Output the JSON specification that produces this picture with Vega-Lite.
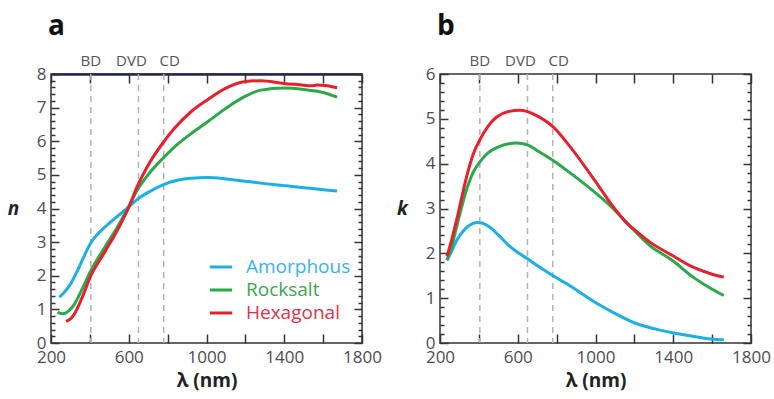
{
  "$schema": "https://vega.github.io/schema/vega-lite/v6.json",
  "padding": {"left": 6, "top": 12, "right": 0, "bottom": 0},
  "config": {
    "font": "Open Sans",
    "view": {"stroke": "#333", "strokeWidth": 1.5},
    "axis": {"domainColor": "#333", "domainWidth": 1.5, "ticks": true, "tickColor": "#333", "tickWidth": 1.5, "labelFont": "Open Sans", "labelFontSize": 17, "labelColor": "#4d4d4d", "grid": false, "titleFont": "Open Sans", "titleFontSize": 19, "titleFontWeight": "bold", "titleColor": "#222"}
  },
  "datasets": {
    "discA": [{"disc": "BD", "lam": 405, "top": 8}, {"disc": "DVD", "lam": 650, "top": 8}, {"disc": "CD", "lam": 780, "top": 8}],
    "discB": [{"disc": "BD", "lam": 405, "top": 6}, {"disc": "DVD", "lam": 650, "top": 6}, {"disc": "CD", "lam": 780, "top": 6}],
    "nData": [
      {"phase": "Amorphous", "lam": 243, "v": 1.36}, {"phase": "Amorphous", "lam": 270, "v": 1.52}, {"phase": "Amorphous", "lam": 300, "v": 1.75}, {"phase": "Amorphous", "lam": 330, "v": 2.08}, {"phase": "Amorphous", "lam": 360, "v": 2.45}, {"phase": "Amorphous", "lam": 385, "v": 2.76}, {"phase": "Amorphous", "lam": 405, "v": 2.98}, {"phase": "Amorphous", "lam": 440, "v": 3.24}, {"phase": "Amorphous", "lam": 474, "v": 3.43}, {"phase": "Amorphous", "lam": 540, "v": 3.76}, {"phase": "Amorphous", "lam": 600, "v": 4.05}, {"phase": "Amorphous", "lam": 650, "v": 4.3}, {"phase": "Amorphous", "lam": 700, "v": 4.48}, {"phase": "Amorphous", "lam": 782, "v": 4.72}, {"phase": "Amorphous", "lam": 850, "v": 4.84}, {"phase": "Amorphous", "lam": 920, "v": 4.9}, {"phase": "Amorphous", "lam": 1004, "v": 4.92}, {"phase": "Amorphous", "lam": 1100, "v": 4.88}, {"phase": "Amorphous", "lam": 1200, "v": 4.81}, {"phase": "Amorphous", "lam": 1300, "v": 4.74}, {"phase": "Amorphous", "lam": 1400, "v": 4.68}, {"phase": "Amorphous", "lam": 1500, "v": 4.62}, {"phase": "Amorphous", "lam": 1600, "v": 4.56}, {"phase": "Amorphous", "lam": 1672, "v": 4.52},
      {"phase": "Rocksalt", "lam": 234, "v": 0.92}, {"phase": "Rocksalt", "lam": 260, "v": 0.87}, {"phase": "Rocksalt", "lam": 290, "v": 0.95}, {"phase": "Rocksalt", "lam": 320, "v": 1.15}, {"phase": "Rocksalt", "lam": 360, "v": 1.6}, {"phase": "Rocksalt", "lam": 405, "v": 2.15}, {"phase": "Rocksalt", "lam": 474, "v": 2.82}, {"phase": "Rocksalt", "lam": 542, "v": 3.45}, {"phase": "Rocksalt", "lam": 602, "v": 4.08}, {"phase": "Rocksalt", "lam": 641, "v": 4.52}, {"phase": "Rocksalt", "lam": 696, "v": 4.98}, {"phase": "Rocksalt", "lam": 782, "v": 5.53}, {"phase": "Rocksalt", "lam": 833, "v": 5.82}, {"phase": "Rocksalt", "lam": 919, "v": 6.22}, {"phase": "Rocksalt", "lam": 1004, "v": 6.57}, {"phase": "Rocksalt", "lam": 1090, "v": 6.94}, {"phase": "Rocksalt", "lam": 1193, "v": 7.32}, {"phase": "Rocksalt", "lam": 1280, "v": 7.52}, {"phase": "Rocksalt", "lam": 1398, "v": 7.58}, {"phase": "Rocksalt", "lam": 1500, "v": 7.54}, {"phase": "Rocksalt", "lam": 1600, "v": 7.45}, {"phase": "Rocksalt", "lam": 1672, "v": 7.31},
      {"phase": "Hexagonal", "lam": 277, "v": 0.64}, {"phase": "Hexagonal", "lam": 300, "v": 0.72}, {"phase": "Hexagonal", "lam": 320, "v": 0.86}, {"phase": "Hexagonal", "lam": 360, "v": 1.35}, {"phase": "Hexagonal", "lam": 405, "v": 2.0}, {"phase": "Hexagonal", "lam": 474, "v": 2.68}, {"phase": "Hexagonal", "lam": 542, "v": 3.36}, {"phase": "Hexagonal", "lam": 602, "v": 4.06}, {"phase": "Hexagonal", "lam": 641, "v": 4.62}, {"phase": "Hexagonal", "lam": 696, "v": 5.25}, {"phase": "Hexagonal", "lam": 782, "v": 6.0}, {"phase": "Hexagonal", "lam": 833, "v": 6.37}, {"phase": "Hexagonal", "lam": 919, "v": 6.87}, {"phase": "Hexagonal", "lam": 1004, "v": 7.23}, {"phase": "Hexagonal", "lam": 1100, "v": 7.58}, {"phase": "Hexagonal", "lam": 1193, "v": 7.77}, {"phase": "Hexagonal", "lam": 1280, "v": 7.8}, {"phase": "Hexagonal", "lam": 1398, "v": 7.72}, {"phase": "Hexagonal", "lam": 1480, "v": 7.68}, {"phase": "Hexagonal", "lam": 1540, "v": 7.65}, {"phase": "Hexagonal", "lam": 1570, "v": 7.67}, {"phase": "Hexagonal", "lam": 1610, "v": 7.66}, {"phase": "Hexagonal", "lam": 1672, "v": 7.59}
    ],
    "kData": [
      {"phase": "Amorphous", "lam": 236, "v": 1.84}, {"phase": "Amorphous", "lam": 260, "v": 2.05}, {"phase": "Amorphous", "lam": 290, "v": 2.32}, {"phase": "Amorphous", "lam": 320, "v": 2.5}, {"phase": "Amorphous", "lam": 350, "v": 2.62}, {"phase": "Amorphous", "lam": 390, "v": 2.69}, {"phase": "Amorphous", "lam": 420, "v": 2.67}, {"phase": "Amorphous", "lam": 460, "v": 2.57}, {"phase": "Amorphous", "lam": 500, "v": 2.41}, {"phase": "Amorphous", "lam": 550, "v": 2.19}, {"phase": "Amorphous", "lam": 600, "v": 2.02}, {"phase": "Amorphous", "lam": 650, "v": 1.88}, {"phase": "Amorphous", "lam": 700, "v": 1.73}, {"phase": "Amorphous", "lam": 782, "v": 1.5}, {"phase": "Amorphous", "lam": 852, "v": 1.32}, {"phase": "Amorphous", "lam": 997, "v": 0.91}, {"phase": "Amorphous", "lam": 1100, "v": 0.66}, {"phase": "Amorphous", "lam": 1194, "v": 0.46}, {"phase": "Amorphous", "lam": 1300, "v": 0.32}, {"phase": "Amorphous", "lam": 1396, "v": 0.23}, {"phase": "Amorphous", "lam": 1500, "v": 0.15}, {"phase": "Amorphous", "lam": 1596, "v": 0.09}, {"phase": "Amorphous", "lam": 1660, "v": 0.07},
      {"phase": "Rocksalt", "lam": 236, "v": 1.85}, {"phase": "Rocksalt", "lam": 260, "v": 2.15}, {"phase": "Rocksalt", "lam": 287, "v": 2.62}, {"phase": "Rocksalt", "lam": 338, "v": 3.44}, {"phase": "Rocksalt", "lam": 370, "v": 3.8}, {"phase": "Rocksalt", "lam": 407, "v": 4.05}, {"phase": "Rocksalt", "lam": 450, "v": 4.25}, {"phase": "Rocksalt", "lam": 492, "v": 4.36}, {"phase": "Rocksalt", "lam": 595, "v": 4.46}, {"phase": "Rocksalt", "lam": 650, "v": 4.42}, {"phase": "Rocksalt", "lam": 697, "v": 4.3}, {"phase": "Rocksalt", "lam": 782, "v": 4.07}, {"phase": "Rocksalt", "lam": 852, "v": 3.85}, {"phase": "Rocksalt", "lam": 997, "v": 3.36}, {"phase": "Rocksalt", "lam": 1074, "v": 3.07}, {"phase": "Rocksalt", "lam": 1151, "v": 2.73}, {"phase": "Rocksalt", "lam": 1194, "v": 2.53}, {"phase": "Rocksalt", "lam": 1280, "v": 2.17}, {"phase": "Rocksalt", "lam": 1396, "v": 1.84}, {"phase": "Rocksalt", "lam": 1502, "v": 1.47}, {"phase": "Rocksalt", "lam": 1596, "v": 1.21}, {"phase": "Rocksalt", "lam": 1660, "v": 1.06},
      {"phase": "Hexagonal", "lam": 236, "v": 1.93}, {"phase": "Hexagonal", "lam": 260, "v": 2.3}, {"phase": "Hexagonal", "lam": 287, "v": 2.77}, {"phase": "Hexagonal", "lam": 338, "v": 3.73}, {"phase": "Hexagonal", "lam": 370, "v": 4.2}, {"phase": "Hexagonal", "lam": 407, "v": 4.55}, {"phase": "Hexagonal", "lam": 450, "v": 4.85}, {"phase": "Hexagonal", "lam": 492, "v": 5.04}, {"phase": "Hexagonal", "lam": 550, "v": 5.16}, {"phase": "Hexagonal", "lam": 612, "v": 5.19}, {"phase": "Hexagonal", "lam": 650, "v": 5.16}, {"phase": "Hexagonal", "lam": 697, "v": 5.07}, {"phase": "Hexagonal", "lam": 782, "v": 4.82}, {"phase": "Hexagonal", "lam": 869, "v": 4.38}, {"phase": "Hexagonal", "lam": 997, "v": 3.62}, {"phase": "Hexagonal", "lam": 1074, "v": 3.14}, {"phase": "Hexagonal", "lam": 1160, "v": 2.68}, {"phase": "Hexagonal", "lam": 1194, "v": 2.55}, {"phase": "Hexagonal", "lam": 1280, "v": 2.25}, {"phase": "Hexagonal", "lam": 1396, "v": 1.95}, {"phase": "Hexagonal", "lam": 1502, "v": 1.69}, {"phase": "Hexagonal", "lam": 1596, "v": 1.54}, {"phase": "Hexagonal", "lam": 1660, "v": 1.47}
    ]
  },
  "spacing": 78,
  "bounds": "flush",
  "resolve": {"scale": {"color": "independent"}, "legend": {"color": "independent"}},
  "hconcat": [
    {
      "width": 311,
      "height": 269,
      "title": {"text": "a", "anchor": "start", "frame": "group", "fontSize": 28, "fontWeight": "bold", "font": "Open Sans", "color": "#111", "offset": 13, "dx": -3},
      "resolve": {"axis": {"x": "independent", "y": "independent"}},
      "layer": [
        {
          "data": {"name": "discA"},
          "mark": {"type": "rule", "color": "#b3b3b3", "strokeWidth": 1.5, "strokeDash": [6, 5]},
          "encoding": {
            "x": {"field": "lam", "type": "quantitative", "scale": {"domain": [200, 1800], "nice": false, "zero": false},
              "axis": {"orient": "top", "values": [200, 400, 600, 800, 1000, 1200, 1400, 1600, 1800], "labels": false, "ticks": true, "tickSize": 9, "offset": -9, "domain": false, "title": null}}
          }
        },
        {
          "data": {"name": "discA"},
          "transform": [{"filter": "datum.disc == 'BD'"}],
          "mark": {"type": "text", "fontSize": 15, "color": "#555", "baseline": "middle", "dy": -13, "font": "Open Sans"},
          "encoding": {
            "x": {"field": "lam", "type": "quantitative", "axis": {"orient": "top", "ticks": false, "labels": false, "title": null, "domainColor": "#262a48", "domainWidth": 2.5}},
            "y": {"field": "top", "type": "quantitative", "scale": {"domain": [0, 8], "nice": false},
              "axis": {"orient": "right", "values": [0, 1, 2, 3, 4, 5, 6, 7, 8], "labels": false, "title": null, "domain": false, "ticks": true, "tickSize": 8, "offset": -8}},
            "text": {"field": "disc"}
          }
        },
        {
          "data": {"name": "discA"},
          "transform": [{"filter": "datum.disc == 'DVD'"}],
          "mark": {"type": "text", "fontSize": 15, "color": "#555", "baseline": "middle", "dy": -13, "dx": -7, "font": "Open Sans"},
          "encoding": {
            "x": {"field": "lam", "type": "quantitative", "axis": null},
            "y": {"field": "top", "type": "quantitative",
              "axis": {"orient": "left", "values": [0.2,0.4,0.6,0.8,1.2,1.4,1.6,1.8,2.2,2.4,2.6,2.8,3.2,3.4,3.6,3.8,4.2,4.4,4.6,4.8,5.2,5.4,5.6,5.8,6.2,6.4,6.6,6.8,7.2,7.4,7.6,7.8], "labels": false, "title": null, "domain": false, "ticks": true, "tickSize": 4, "offset": -4}},
            "text": {"field": "disc"}
          }
        },
        {
          "data": {"name": "discA"},
          "transform": [{"filter": "datum.disc == 'CD'"}],
          "mark": {"type": "text", "fontSize": 15, "color": "#555", "baseline": "middle", "dy": -13, "dx": 6, "font": "Open Sans"},
          "encoding": {
            "x": {"field": "lam", "type": "quantitative", "axis": null},
            "y": {"field": "top", "type": "quantitative",
              "axis": {"orient": "right", "values": [0.2,0.4,0.6,0.8,1.2,1.4,1.6,1.8,2.2,2.4,2.6,2.8,3.2,3.4,3.6,3.8,4.2,4.4,4.6,4.8,5.2,5.4,5.6,5.8,6.2,6.4,6.6,6.8,7.2,7.4,7.6,7.8], "labels": false, "title": null, "domain": false, "ticks": true, "tickSize": 4, "offset": -4}},
            "text": {"field": "disc"}
          }
        },
        {
          "data": {"name": "nData"},
          "mark": {"type": "line", "interpolate": "monotone", "strokeWidth": 3},
          "encoding": {
            "x": {"field": "lam", "type": "quantitative",
              "axis": {"orient": "bottom", "values": [200, 400, 600, 800, 1000, 1200, 1400, 1600, 1800], "format": "d", "labelExpr": "datum.value % 400 == 200 ? datum.label : ''", "ticks": true, "tickSize": 9, "offset": -9, "domain": false, "labelPadding": 6, "labelFlush": false, "title": "λ (nm)", "titlePadding": 6}},
            "y": {"field": "v", "type": "quantitative",
              "axis": {"orient": "left", "values": [0, 1, 2, 3, 4, 5, 6, 7, 8], "format": "d", "ticks": true, "tickSize": 8, "offset": -8, "domain": false,
                "labelPadding": 5, "labelFlush": false, "labelOverlap": false,
                "title": "n", "titleAngle": 0, "titleX": -46, "titleY": 134.5, "titleAlign": "center", "titleBaseline": "middle", "titleFontStyle": "italic"}},
            "color": {"field": "phase", "type": "nominal",
              "scale": {"domain": ["Amorphous", "Rocksalt", "Hexagonal"], "range": ["#1cafe6", "#2aa84a", "#e8202c"]},
              "legend": {"orient": "none", "legendX": 157, "legendY": 180, "title": null, "symbolType": "stroke", "symbolSize": 500, "symbolStrokeWidth": 3, "labelFontSize": 19, "labelFont": "Open Sans", "labelOffset": 12, "rowPadding": 0,
                "encode": {"labels": {"update": {"fill": {"signal": "datum.value === 'Amorphous' ? '#3ab3e6' : datum.value === 'Rocksalt' ? '#3aa94d' : '#e0324a'"}}}}}}
          }
        }
      ]
    },
    {
      "width": 311,
      "height": 269,
      "title": {"text": "b", "anchor": "start", "frame": "group", "fontSize": 28, "fontWeight": "bold", "font": "Open Sans", "color": "#111", "offset": 13, "dx": -3},
      "resolve": {"axis": {"x": "independent", "y": "independent"}},
      "layer": [
        {
          "data": {"name": "discB"},
          "mark": {"type": "rule", "color": "#b3b3b3", "strokeWidth": 1.5, "strokeDash": [6, 5]},
          "encoding": {
            "x": {"field": "lam", "type": "quantitative", "scale": {"domain": [200, 1800], "nice": false, "zero": false},
              "axis": {"orient": "top", "values": [200, 400, 600, 800, 1000, 1200, 1400, 1600, 1800], "labels": false, "ticks": true, "tickSize": 9, "offset": -9, "domain": false, "title": null}}
          }
        },
        {
          "data": {"name": "discB"},
          "transform": [{"filter": "datum.disc == 'BD'"}],
          "mark": {"type": "text", "fontSize": 15, "color": "#555", "baseline": "middle", "dy": -13, "font": "Open Sans"},
          "encoding": {
            "x": {"field": "lam", "type": "quantitative", "axis": null},
            "y": {"field": "top", "type": "quantitative", "scale": {"domain": [0, 6], "nice": false},
              "axis": {"orient": "right", "values": [0, 1, 2, 3, 4, 5, 6], "labels": false, "title": null, "domain": false, "ticks": true, "tickSize": 8, "offset": -8}},
            "text": {"field": "disc"}
          }
        },
        {
          "data": {"name": "discB"},
          "transform": [{"filter": "datum.disc == 'DVD'"}],
          "mark": {"type": "text", "fontSize": 15, "color": "#555", "baseline": "middle", "dy": -13, "dx": -7, "font": "Open Sans"},
          "encoding": {
            "x": {"field": "lam", "type": "quantitative", "axis": null},
            "y": {"field": "top", "type": "quantitative",
              "axis": {"orient": "left", "values": [0.2,0.4,0.6,0.8,1.2,1.4,1.6,1.8,2.2,2.4,2.6,2.8,3.2,3.4,3.6,3.8,4.2,4.4,4.6,4.8,5.2,5.4,5.6,5.8], "labels": false, "title": null, "domain": false, "ticks": true, "tickSize": 4, "offset": -4}},
            "text": {"field": "disc"}
          }
        },
        {
          "data": {"name": "discB"},
          "transform": [{"filter": "datum.disc == 'CD'"}],
          "mark": {"type": "text", "fontSize": 15, "color": "#555", "baseline": "middle", "dy": -13, "dx": 6, "font": "Open Sans"},
          "encoding": {
            "x": {"field": "lam", "type": "quantitative", "axis": null},
            "y": {"field": "top", "type": "quantitative",
              "axis": {"orient": "right", "values": [0.2,0.4,0.6,0.8,1.2,1.4,1.6,1.8,2.2,2.4,2.6,2.8,3.2,3.4,3.6,3.8,4.2,4.4,4.6,4.8,5.2,5.4,5.6,5.8], "labels": false, "title": null, "domain": false, "ticks": true, "tickSize": 4, "offset": -4}},
            "text": {"field": "disc"}
          }
        },
        {
          "data": {"name": "kData"},
          "mark": {"type": "line", "interpolate": "monotone", "strokeWidth": 3},
          "encoding": {
            "x": {"field": "lam", "type": "quantitative",
              "axis": {"orient": "bottom", "values": [200, 400, 600, 800, 1000, 1200, 1400, 1600, 1800], "format": "d", "labelExpr": "datum.value % 400 == 200 ? datum.label : ''", "ticks": true, "tickSize": 9, "offset": -9, "domain": false, "labelPadding": 6, "labelFlush": false, "title": "λ (nm)", "titlePadding": 6}},
            "y": {"field": "v", "type": "quantitative",
              "axis": {"orient": "left", "values": [0, 1, 2, 3, 4, 5, 6], "format": "d", "ticks": true, "tickSize": 8, "offset": -8, "domain": false,
                "labelPadding": 5, "labelFlush": false, "labelOverlap": false,
                "title": "k", "titleAngle": 0, "titleX": -46, "titleY": 134.5, "titleAlign": "center", "titleBaseline": "middle", "titleFontStyle": "italic"}},
            "color": {"field": "phase", "type": "nominal",
              "scale": {"domain": ["Amorphous", "Rocksalt", "Hexagonal"], "range": ["#1cafe6", "#2aa84a", "#e8202c"]},
              "legend": null}
          }
        }
      ]
    }
  ]
}
